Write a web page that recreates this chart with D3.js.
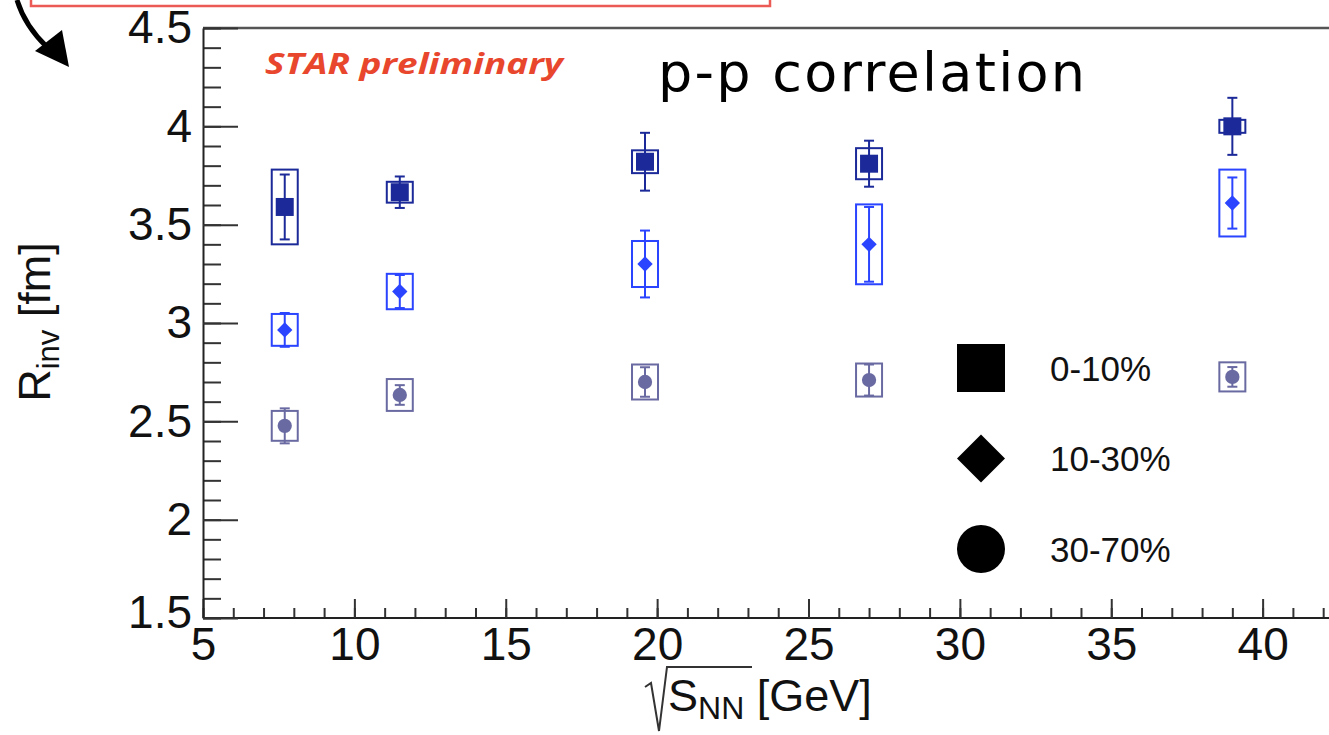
<!DOCTYPE html>
<html lang="en">
<head>
<meta charset="UTF-8">
<title>p-p correlation - Rinv vs sqrt(sNN)</title>
<style>
  body { margin: 0; background: #fff; }
  svg { display: block; }
  .axis line { stroke: #333; stroke-width: 2px; }
  .axis path { stroke: #222; stroke-width: 2px; fill: none; }
  .lbl { font-family: "Liberation Sans", Arial, sans-serif; fill: #111; }
</style>
</head>
<body>
<svg width="1329" height="735"></svg>
<script src="https://d3js.org/d3.v7.min.js"></script>
<script>
// beam energies sqrt(s_NN) [GeV]
var energies = [7.7, 11.5, 19.6, 27, 39];

// R_inv [fm] with statistical and systematic errors, per centrality class
var rinv0_10  = [3.59, 3.665, 3.82, 3.81, 4.00];
var stat0_10  = [0.165, 0.08, 0.147, 0.117, 0.145];
var sys0_10   = [0.19, 0.053, 0.058, 0.079, 0.033];

var rinv10_30 = [2.965, 3.16, 3.30, 3.40, 3.61];
var stat10_30 = [0.086, 0.084, 0.17, 0.19, 0.13];
var sys10_30  = [0.081, 0.09, 0.117, 0.203, 0.17];

var rinv30_70 = [2.477, 2.634, 2.70, 2.71, 2.726];
var stat30_70 = [0.089, 0.05, 0.075, 0.079, 0.05];
var sys30_70  = [0.076, 0.081, 0.089, 0.084, 0.074];

var legendLabels = ["0-10%", "10-30%", "30-70%"];
var xTickLabels = [5, 10, 15, 20, 25, 30, 35, 40];
var yTickLabels = [1.5, 2, 2.5, 3, 3.5, 4, 4.5];

var svg = d3.select("svg");

var x = d3.scaleLinear().domain([5, 45]).range([203, 1414]),
    y = d3.scaleLinear().domain([1.5, 4.5]).range([618, 28]);

var series = [
  {name: legendLabels[0], values: rinv0_10, stat: stat0_10, sys: sys0_10,
   color: "#1b2a98", symbol: d3.symbolSquare, size: 324},
  {name: legendLabels[1], values: rinv10_30, stat: stat10_30, sys: sys10_30,
   color: "#2a44ff", symbol: d3.symbolDiamond2, size: 150},
  {name: legendLabels[2], values: rinv30_70, stat: stat30_70, sys: sys30_70,
   color: "#6a6aa2", symbol: d3.symbolCircle, size: 160}
];

// red box edge + arrow at the top left (cropped slide annotations)
svg.append("path")
  .attr("d", "M31,0V6H770V0")
  .attr("fill", "none")
  .attr("stroke", "#ec5a55")
  .attr("stroke-width", 2.5);

svg.append("path")
  .attr("d", "M17,0Q25,26 47,47")
  .attr("fill", "none")
  .attr("stroke", "#000")
  .attr("stroke-width", 5);
svg.append("path")
  .attr("d", "M69,67L35,51L62,30Z")
  .attr("fill", "#000");

// frame top
svg.append("line")
  .attr("x1", x(5)).attr("x2", x(45))
  .attr("y1", y(4.5)).attr("y2", y(4.5))
  .attr("stroke", "#555")
  .attr("stroke-width", 2.5);

// x axis, minor then major
svg.append("g")
  .attr("class", "axis")
  .attr("transform", "translate(0," + y(1.5) + ")")
  .call(d3.axisBottom(x).tickValues(d3.range(5, 46)).tickSizeInner(-10).tickSizeOuter(0).tickFormat(""))
  .call(function(g) { g.select(".domain").remove(); });

var xAxis = svg.append("g")
  .attr("class", "axis")
  .attr("transform", "translate(0," + y(1.5) + ")")
  .call(d3.axisBottom(x).tickValues(xTickLabels).tickSizeInner(-19).tickSizeOuter(0)
    .tickPadding(9).tickFormat(function(d) { return String(d); }));
xAxis.select(".domain").attr("d", "M" + x(5) + ",0H" + x(45));
xAxis.selectAll("text")
  .attr("class", "lbl")
  .attr("font-size", 46);

// y axis, minor then major
svg.append("g")
  .attr("class", "axis")
  .attr("transform", "translate(" + x(5) + ",0)")
  .call(d3.axisLeft(y).tickValues(d3.range(15, 46).map(function(d) { return d / 10; }))
    .tickSizeInner(-18).tickSizeOuter(0).tickFormat(""))
  .call(function(g) { g.select(".domain").remove(); });

var yAxis = svg.append("g")
  .attr("class", "axis")
  .attr("transform", "translate(" + x(5) + ",0)")
  .call(d3.axisLeft(y).tickValues(yTickLabels).tickSizeInner(-35).tickSizeOuter(0)
    .tickPadding(11).tickFormat(function(d) { return String(d); }));
yAxis.selectAll("text")
  .attr("class", "lbl")
  .attr("font-size", 46);
// ROOT nudges the bottom label up a little
yAxis.selectAll(".tick").filter(function(d) { return d === 1.5; })
  .select("text").attr("dy", "0.2em");

// axis titles
var xt = svg.append("text")
  .attr("class", "lbl")
  .attr("x", 668).attr("y", 711)
  .attr("font-size", 45);
xt.append("tspan").text("S");
xt.append("tspan").attr("font-size", 32).attr("dy", 8).text("NN");
xt.append("tspan").attr("dy", -8).text(" [GeV]");

svg.append("path")
  .attr("d", "M645,687L651,683L659,731L667,667H752")
  .attr("fill", "none")
  .attr("stroke", "#333")
  .attr("stroke-width", 2);

var yt = svg.append("text")
  .attr("class", "lbl")
  .attr("transform", "translate(50,322) rotate(-90)")
  .attr("text-anchor", "middle")
  .attr("font-size", 45);
yt.append("tspan").text("R");
yt.append("tspan").attr("font-size", 31).attr("dy", 9).text("inv");
yt.append("tspan").attr("dy", -9).text(" [fm]");

// labels inside the frame
svg.append("text")
  .attr("x", 265).attr("y", 74)
  .attr("font-family", "'Open Sans', 'Liberation Sans', sans-serif")
  .attr("font-weight", "bold")
  .attr("font-style", "italic")
  .attr("font-size", 29)
  .attr("fill", "#e8472e")
  .attr("textLength", 298)
  .attr("lengthAdjust", "spacingAndGlyphs")
  .text("STAR preliminary");

svg.append("text")
  .attr("x", 658).attr("y", 91)
  .attr("font-family", "'DejaVu Sans', sans-serif")
  .attr("font-size", 54)
  .attr("fill", "#000")
  .attr("textLength", 427)
  .attr("lengthAdjust", "spacing")
  .text("p-p correlation");

// data: sys boxes, stat bars, markers
var boxHalf = 13, capHalf = 5;

var groups = svg.selectAll(".series")
  .data(series)
  .enter().append("g")
    .attr("class", "series");

groups.each(function(s) {
  var g = d3.select(this);
  var pts = energies.map(function(e, i) {
    return {e: e, v: s.values[i], stat: s.stat[i], sys: s.sys[i]};
  });

  g.selectAll("rect.sys")
    .data(pts)
    .enter().append("rect")
      .attr("class", "sys")
      .attr("x", function(d) { return x(d.e) - boxHalf; })
      .attr("y", function(d) { return y(d.v + d.sys); })
      .attr("width", boxHalf * 2)
      .attr("height", function(d) { return y(d.v - d.sys) - y(d.v + d.sys); })
      .attr("fill", "none")
      .attr("stroke", s.color)
      .attr("stroke-width", 2);

  var bars = g.selectAll("g.stat")
    .data(pts)
    .enter().append("g")
      .attr("class", "stat")
      .attr("stroke", s.color)
      .attr("stroke-width", 2);
  bars.append("line")
    .attr("x1", function(d) { return x(d.e); })
    .attr("x2", function(d) { return x(d.e); })
    .attr("y1", function(d) { return y(d.v - d.stat); })
    .attr("y2", function(d) { return y(d.v + d.stat); });
  bars.append("line")
    .attr("x1", function(d) { return x(d.e) - capHalf; })
    .attr("x2", function(d) { return x(d.e) + capHalf; })
    .attr("y1", function(d) { return y(d.v - d.stat); })
    .attr("y2", function(d) { return y(d.v - d.stat); });
  bars.append("line")
    .attr("x1", function(d) { return x(d.e) - capHalf; })
    .attr("x2", function(d) { return x(d.e) + capHalf; })
    .attr("y1", function(d) { return y(d.v + d.stat); })
    .attr("y2", function(d) { return y(d.v + d.stat); });

  g.selectAll("path.marker")
    .data(pts)
    .enter().append("path")
      .attr("class", "marker")
      .attr("transform", function(d) { return "translate(" + x(d.e) + "," + y(d.v) + ")"; })
      .attr("d", d3.symbol(s.symbol, s.size))
      .attr("fill", s.color);
});

// legend
var legendSizes = [2304, 1470, 1810];
var legend = svg.selectAll(".legend")
  .data(series)
  .enter().append("g")
    .attr("class", "legend")
    .attr("transform", function(d, i) { return "translate(981," + (368 + i * 90.5) + ")"; });

legend.append("path")
  .attr("d", function(d, i) { return d3.symbol(d.symbol, legendSizes[i])(); })
  .attr("fill", "#000");

legend.append("text")
  .attr("class", "lbl")
  .attr("x", 69)
  .attr("dy", "0.36em")
  .attr("font-size", 35)
  .text(function(d) { return d.name; });
</script>
</body>
</html>
